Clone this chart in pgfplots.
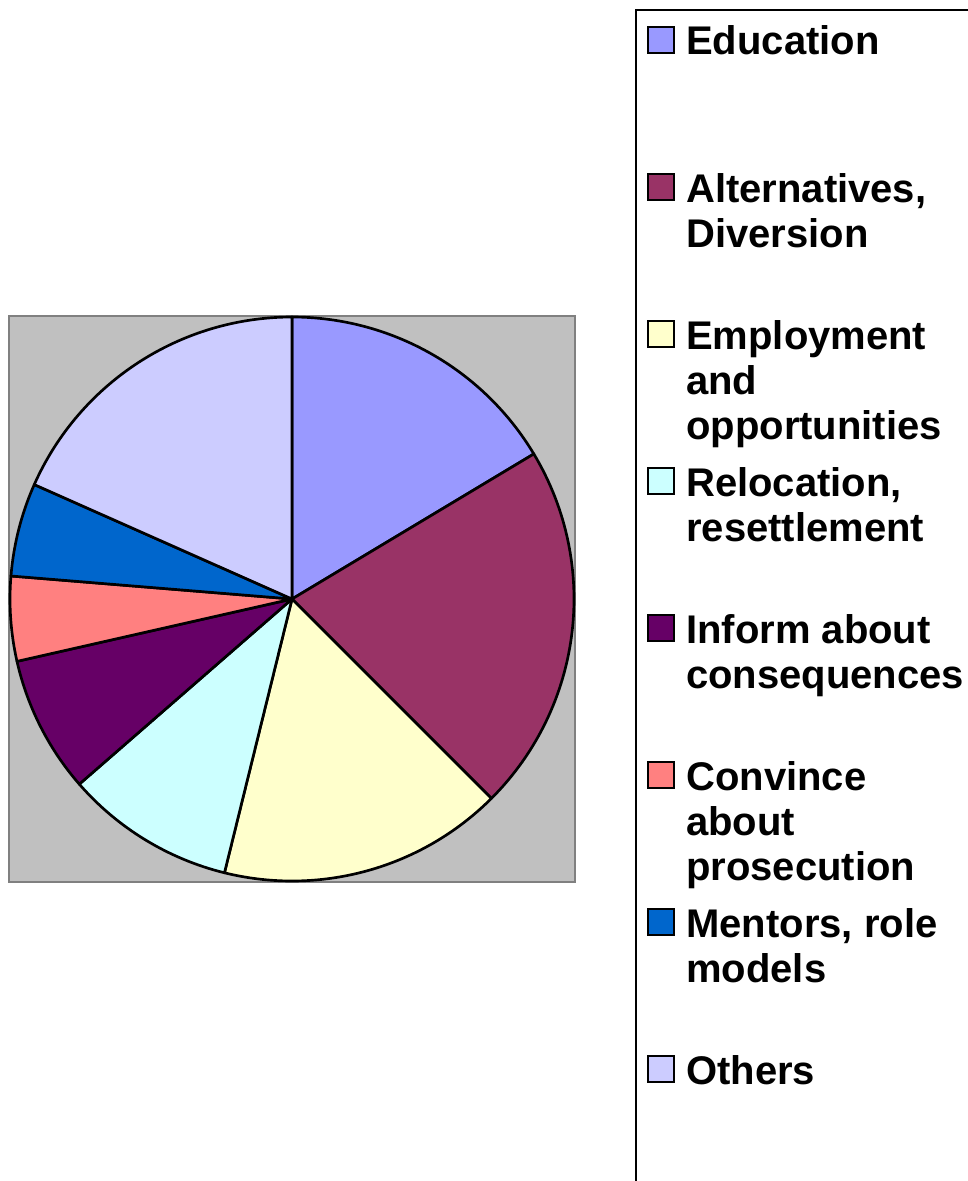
\documentclass[border=0pt]{standalone}
\usepackage{pgfplots}
\usepackage{pgfplotstable}
\pgfplotsset{compat=1.18}
\usepackage{fontspec}
\setmainfont{Liberation Sans}

\definecolor{cEdu}{HTML}{9999FF}
\definecolor{cAlt}{HTML}{993366}
\definecolor{cEmp}{HTML}{FFFFCC}
\definecolor{cRel}{HTML}{CCFFFF}
\definecolor{cInf}{HTML}{660066}
\definecolor{cCon}{HTML}{FF8080}
\definecolor{cMen}{HTML}{0066CC}
\definecolor{cOth}{HTML}{CCCCFF}
\definecolor{plotbg}{HTML}{C0C0C0}
\definecolor{plotframe}{HTML}{808080}

% share of each answer, in percent, clockwise from the top
\pgfplotstableread{
value colour
16.40 cEdu
21.10 cAlt
16.35 cEmp
9.75  cRel
7.85  cInf
4.85  cCon
5.35  cMen
18.35 cOth
}\piedata

\begin{document}
\begin{tikzpicture}
% canvas in pixel units of the reference (origin top left)
\begin{scope}[x=0.75pt, y=-0.75pt]
  \useasboundingbox (0,0) rectangle (967,1181);
  % legend frame (runs off the right and bottom edge)
  \draw[line width=2pt, black] (636,1200) -- (636,10) -- (990,10);
\end{scope}

\begin{axis}[
    at={(219pt,-449.25pt)}, anchor=origin,
    x=0.75pt, y=0.75pt,
    xmin=-283, xmax=283, ymin=-283, ymax=283,
    xtick=\empty, ytick=\empty,
    axis line style={draw=plotframe, line width=2pt},
    axis background/.style={fill=plotbg},
    clip=false,
]
\pgfplotstablegetrowsof{\piedata}
\pgfmathtruncatemacro{\lastrow}{\pgfplotsretval-1}
\def\total{0}
\pgfplotsforeachungrouped \i in {0,...,\lastrow}{%
  \pgfplotstablegetelem{\i}{value}\of\piedata
  \pgfmathsetmacro{\total}{\total+\pgfplotsretval}}
\def\startangle{90}
\pgfplotsforeachungrouped \i in {0,...,\lastrow}{%
  \pgfplotstablegetelem{\i}{value}\of\piedata
  \pgfmathsetmacro{\endangle}{\startangle-360*\pgfplotsretval/\total}
  \pgfplotstablegetelem{\i}{colour}\of\piedata
  \edef\slice{\noexpand\filldraw[fill=\pgfplotsretval, draw=black,
      line width=2pt, line join=round]
    (axis cs:0,0) -- (axis cs:{282*cos(\startangle)},{282*sin(\startangle)})
    arc[start angle=\startangle, end angle=\endangle, radius=211.5pt] -- cycle;}
  \slice
  \let\startangle\endangle}
\end{axis}

% legend entries
\begin{scope}[x=0.75pt, y=-0.75pt,
    every node/.style={anchor=base west, inner sep=0pt,
      font=\fontsize{30}{34}\selectfont\bfseries}]
  \foreach \c/\k in {cEdu/0,cAlt/1,cEmp/2,cRel/3,cInf/4,cCon/5,cMen/6,cOth/7}{
    \filldraw[fill=\c, draw=black, line width=1.5pt]
      (648,{27+147*\k}) rectangle (674,{53+147*\k});
  }
  \node at (686,55) {Education};
  \node at (686,202) {Alternatives,};
  \node at (686,247) {Diversion};
  \node at (686,349) {Employment};
  \node at (686,394) {and};
  \node at (686,439) {opportunities};
  \node at (686,496) {Relocation,};
  \node at (686,541) {resettlement};
  \node at (686,643) {Inform about};
  \node at (686,688) {consequences};
  \node at (686,790) {Convince};
  \node at (686,835) {about};
  \node at (686,880) {prosecution};
  \node at (686,937) {Mentors, role};
  \node at (686,982) {models};
  \node at (686,1084) {Others};
\end{scope}
\end{tikzpicture}
\end{document}
